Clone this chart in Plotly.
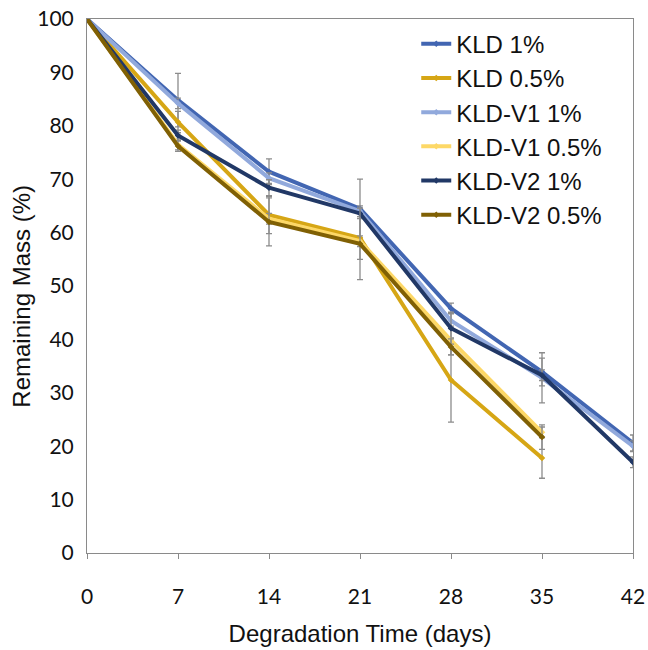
import plotly.graph_objects as go

# Degradation time points (days)
days = [0, 7, 14, 21, 28, 35, 42]

# Remaining mass (%) for each formulation
kld_1 = [100, 84.8, 71.4, 64.5, 45.8, 33.9, 20.6]
kld_05 = [100, 80.7, 63.3, 59.0, 32.4, 17.8]
kld_v1_1 = [100, 84.2, 70.2, 64.0, 43.5, 32.8, 20.0]
kld_v1_05 = [100, 76.5, 62.6, 58.4, 39.8, 22.6]
kld_v2_1 = [100, 78.2, 68.4, 63.6, 42.1, 33.3, 17.0]
kld_v2_05 = [100, 76.2, 62.0, 57.9, 38.6, 21.7]

# Standard deviations (error bars)
kld_1_err = [0, 5.0, 2.4, 5.5, 1.0, 2.6, 1.5]
kld_05_err = [0, 2.0, 3.5, 4.0, 7.9, 3.8]
kld_v1_1_err = [0, 1.0, 1.0, 1.0, 1.5, 4.7, 1.0]
kld_v1_05_err = [0, 1.0, 1.0, 1.0, 2.7, 1.0]
kld_v2_1_err = [0, 1.0, 1.5, 1.0, 3.0, 1.0, 1.0]
kld_v2_05_err = [0, 1.0, 4.5, 6.7, 1.5, 2.3]

series = [
    ("KLD 1%", kld_1, kld_1_err, "#4266b2"),
    ("KLD 0.5%", kld_05, kld_05_err, "#d6a615"),
    ("KLD-V1 1%", kld_v1_1, kld_v1_1_err, "#91a9dc"),
    ("KLD-V1 0.5%", kld_v1_05, kld_v1_05_err, "#fdd867"),
    ("KLD-V2 1%", kld_v2_1, kld_v2_1_err, "#213866"),
    ("KLD-V2 0.5%", kld_v2_05, kld_v2_05_err, "#806004"),
]

fig = go.Figure()
for name, vals, err, color in series:
    fig.add_trace(go.Scatter(
        x=days[:len(vals)],
        y=vals,
        name=name,
        mode="lines+markers",
        line=dict(color=color, width=4),
        marker=dict(symbol="diamond", size=5, color=color),
        error_y=dict(type="data", array=err, color="#8c8c8c",
                     thickness=1.3, width=3),
    ))

axis_line = "#8a8a8a"
tick_font = dict(family="Lato, Open Sans, sans-serif", size=21, color="#111111")
fig.update_layout(
    width=648,
    height=650,
    margin=dict(l=87, r=15, t=19, b=97, autoexpand=False),
    paper_bgcolor="white",
    plot_bgcolor="white",
    font=dict(family="Liberation Sans, Arial, sans-serif", color="#111111"),
    xaxis=dict(
        range=[0, 42],
        tickvals=days,
        ticktext=[str(d) for d in days],
        ticks="outside",
        ticklen=5,
        tickcolor=axis_line,
        showline=True,
        linecolor=axis_line,
        linewidth=1,
        mirror=True,
        showgrid=False,
        zeroline=False,
        automargin=False,
        tickfont=tick_font,
        ticklabelstandoff=20,
        title=dict(text="Degradation Time (days)", font=dict(size=24), standoff=17),
    ),
    yaxis=dict(
        range=[0, 100],
        dtick=10,
        ticks="",
        showline=True,
        linecolor=axis_line,
        linewidth=1,
        mirror=True,
        showgrid=False,
        zeroline=False,
        automargin=False,
        tickfont=tick_font,
        ticklabelstandoff=8,
    ),
    legend=dict(
        x=0.603,
        y=0.995,
        xanchor="left",
        yanchor="top",
        bgcolor="rgba(0,0,0,0)",
        font=dict(size=24, color="#111111"),
        itemwidth=30,
        tracegroupgap=0,
    ),
    showlegend=True,
)

# y-axis title placed as a rotated annotation left of the tick labels
fig.add_annotation(
    text="Remaining Mass (%)",
    xref="paper", yref="paper",
    x=-0.119, y=0.48,
    xanchor="center", yanchor="middle",
    textangle=-90,
    showarrow=False,
    font=dict(size=24, color="#111111"),
)

fig.write_html("out.html")
